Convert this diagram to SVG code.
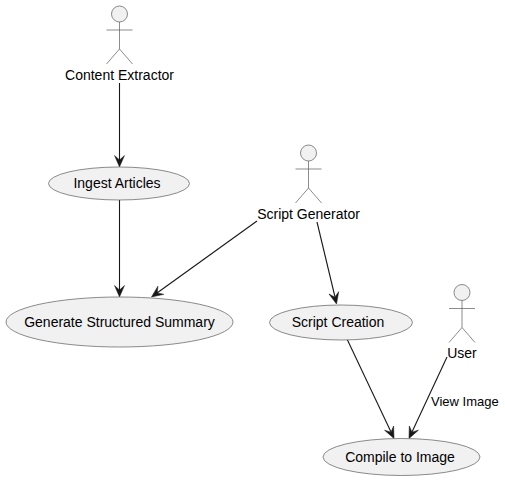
<svg xmlns="http://www.w3.org/2000/svg" width="505" height="480" viewBox="0 0 505 480">
<style>
text{font-family:"Liberation Sans",Arial,sans-serif;fill:#000;text-anchor:middle}
.n{font-size:14px}
.l{font-size:13px;text-anchor:start}
.u{fill:#F1F1F1;stroke:#5A5A5A;stroke-width:.7}
.c{stroke:#181818;stroke-width:1.1;fill:none}
.h{fill:#181818;stroke:#181818;stroke-width:.5}
</style>
<defs>
<path id="ah" d="M0 0L-5 -11.500L0 -7L5 -11.500Z"/>
<g id="stick"><circle cx="0" cy="0" r="8" fill="#F1F1F1" stroke="#5A5A5A" stroke-width=".7"/><path d="M0 8V35M-13 16H13M0 35L-13 50M0 35L13 50" fill="none" stroke="#5A5A5A" stroke-width=".7"/></g>
</defs>
<rect width="505" height="480" fill="#fff"/>
<g id="connectors">
<path class="c" d="M119.500 83V160"/><use class="h" href="#ah" transform="translate(119.500 167)"/>
<path class="c" d="M119.500 200V290"/><use class="h" href="#ah" transform="translate(119.500 297)"/>
<path class="c" d="M257 221L157 293"/><use class="h" href="#ah" transform="translate(151.500 297) rotate(54.200)"/>
<path class="c" d="M317 222L335 297"/><use class="h" href="#ah" transform="translate(336.500 304) rotate(-13.400)"/>
<path class="c" d="M347 339L391 432"/><use class="h" href="#ah" transform="translate(394 438.500) rotate(-25.300)"/>
<path class="c" d="M447 357L412 432"/><use class="h" href="#ah" transform="translate(409 438.500) rotate(25)"/>
<text class="l" x="431" y="406">View Image</text>
</g>
<g id="content-extractor"><use href="#stick" x="119.500" y="14"/><text class="n" x="119.500" y="80">Content Extractor</text></g>
<g id="script-generator"><use href="#stick" x="308.500" y="153"/><text class="n" x="308.500" y="219">Script Generator</text></g>
<g id="user"><use href="#stick" x="462" y="292.500"/><text class="n" x="462" y="358">User</text></g>
<g id="ingest-articles"><ellipse class="u" cx="119" cy="183.500" rx="70.500" ry="16.500"/><text class="n" x="117" y="188">Ingest Articles</text></g>
<g id="generate-structured-summary"><ellipse class="u" cx="119.500" cy="322" rx="113.500" ry="25"/><text class="n" x="119.500" y="326.500">Generate Structured Summary</text></g>
<g id="script-creation"><ellipse class="u" cx="341" cy="322.500" rx="71.500" ry="17.500"/><text class="n" x="338" y="327">Script Creation</text></g>
<g id="compile-to-image"><ellipse class="u" cx="401.500" cy="457" rx="78.500" ry="18.500"/><text class="n" x="400" y="462">Compile to Image</text></g>
</svg>
